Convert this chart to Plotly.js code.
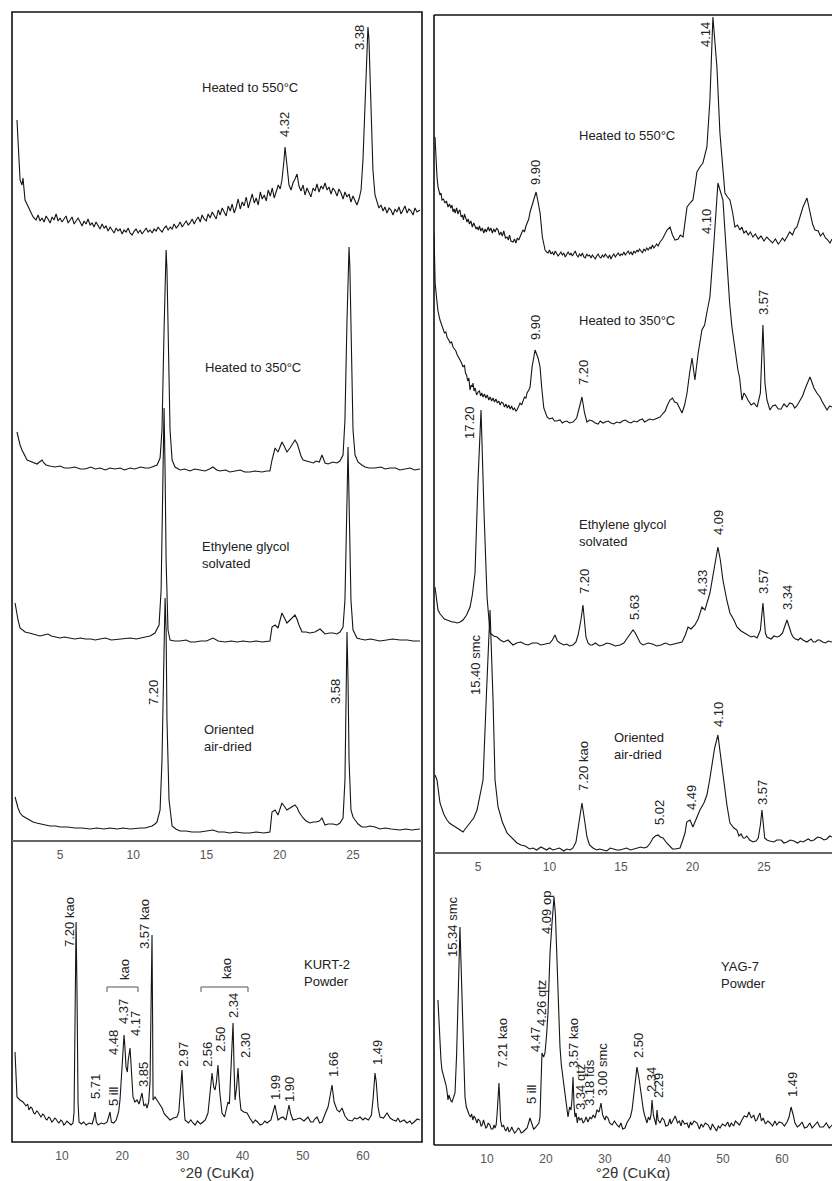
<!DOCTYPE html>
<html>
<head>
<meta charset="utf-8">
<script src="https://cdn.plot.ly/plotly-3.0.1.min.js"></script>
<style>html,body{margin:0;padding:0;background:#fff}#chart{width:832px;height:1181px}</style>
</head>
<body>
<div id="chart"></div>
<script>
// ===== DATA: [°2θ, relative intensity] =====
// KURT-2 oriented clay fraction (left, upper)
const kurtHeated550 = [[2.06,115],[2.20,75],[2.27,55],[2.40,50],[2.47,57],[2.61,35],[2.82,28],[3.16,18],[3.36,15],[3.50,20],[3.64,14],[3.77,17],[3.91,13],[4.05,19],[4.18,16],[4.32,12],[4.46,18],[4.59,15],[4.73,21],[4.87,14],[5.00,17],[5.14,13],[5.27,16],[5.41,19],[5.55,12],[5.68,15],[5.82,18],[5.96,11],[6.09,14],[6.23,17],[6.37,13],[6.50,9],[6.64,14],[6.78,11],[6.91,16],[7.05,10],[7.19,12],[7.32,8],[7.46,13],[7.60,9],[7.73,6],[7.87,11],[8.01,7],[8.14,9],[8.28,4],[8.42,8],[8.55,5],[8.69,2],[8.83,7],[8.96,4],[9.10,6],[9.24,1],[9.37,5],[9.51,3],[9.65,7],[9.78,2],[9.92,0],[10.06,4],[10.19,6],[10.33,2],[10.47,5],[10.60,1],[10.74,4],[10.88,7],[11.01,3],[11.15,5],[11.29,2],[11.42,6],[11.56,4],[11.70,8],[11.83,5],[11.97,3],[12.11,7],[12.24,9],[12.38,5],[12.52,8],[12.65,6],[12.79,11],[12.93,7],[13.06,9],[13.20,13],[13.34,8],[13.47,11],[13.61,14],[13.75,10],[13.88,12],[14.02,16],[14.16,11],[14.29,15],[14.43,18],[14.57,13],[14.70,20],[14.84,16],[14.98,14],[15.11,21],[15.25,17],[15.39,23],[15.52,19],[15.66,16],[15.80,25],[15.93,20],[16.07,27],[16.21,22],[16.34,19],[16.48,29],[16.62,24],[16.75,31],[16.89,22],[17.03,28],[17.16,36],[17.30,26],[17.44,33],[17.57,29],[17.71,38],[17.85,27],[17.98,35],[18.12,41],[18.26,32],[18.39,37],[18.53,30],[18.67,43],[18.80,36],[18.94,40],[19.08,34],[19.21,45],[19.35,39],[19.49,47],[19.62,37],[19.76,44],[19.90,50],[20.03,46],[20.15,55],[20.29,75],[20.36,88],[20.49,70],[20.63,50],[20.77,45],[20.90,52],[21.04,56],[21.18,61],[21.31,49],[21.45,44],[21.59,50],[21.72,40],[21.86,47],[22.00,42],[22.13,38],[22.27,47],[22.41,44],[22.54,51],[22.68,43],[22.82,49],[22.95,46],[23.09,52],[23.23,45],[23.36,48],[23.50,41],[23.63,47],[23.77,44],[23.91,39],[24.04,46],[24.18,42],[24.32,36],[24.45,43],[24.59,38],[24.73,41],[24.86,33],[25.00,39],[25.14,35],[25.27,30],[25.41,36],[25.55,45],[25.68,75],[25.82,135],[25.96,195],[26.02,208],[26.09,195],[26.23,125],[26.36,65],[26.50,40],[26.64,32],[26.77,27],[26.91,30],[27.05,24],[27.18,28],[27.32,22],[27.46,27],[27.59,25],[27.73,20],[27.87,26],[28.00,23],[28.14,28],[28.28,21],[28.41,25],[28.55,29],[28.69,22],[28.82,26],[28.96,24],[29.10,20],[29.23,27],[29.37,23],[29.57,25]];
const kurtHeated350 = [[2.06,38],[2.17,30],[2.27,25],[2.40,20],[2.47,18],[2.61,13],[2.75,10],[2.92,9],[3.09,8],[3.26,7],[3.43,6],[3.60,8],[3.77,10],[3.90,7],[4.04,5],[4.30,4],[4.66,3],[5.0,4],[5.3,2],[5.68,2],[6.0,3],[6.4,1],[6.71,1],[7.1,3],[7.4,1],[7.73,2],[8.1,0],[8.4,2],[8.75,1],[9.1,2],[9.4,0],[9.78,2],[10.1,1],[10.5,3],[10.8,2],[11.1,2],[11.28,3],[11.50,4],[11.62,5],[11.83,12],[11.96,40],[12.10,140],[12.17,200],[12.24,220],[12.30,200],[12.37,130],[12.51,40],[12.65,10],[12.85,3],[13.19,0],[13.5,1],[13.87,-1],[14.2,1],[14.56,0],[14.9,-1],[15.2,1],[15.44,3],[15.7,0],[15.92,-1],[16.3,0],[16.6,-2],[16.95,-1],[17.3,0],[17.6,-2],[17.97,-2],[18.3,-1],[18.6,-2],[18.79,-2],[19.1,-1],[19.33,-1],[19.47,10],[19.68,22],[19.88,18],[20.15,28],[20.30,24],[20.49,18],[20.70,22],[20.84,25],[21.04,30],[21.20,26],[21.31,20],[21.45,14],[21.59,10],[21.80,9],[22.06,8],[22.3,7],[22.47,9],[22.7,8],[22.88,15],[23.09,7],[23.3,6],[23.63,8],[23.9,7],[24.11,9],[24.32,15],[24.45,50],[24.59,150],[24.66,200],[24.73,223],[24.79,200],[24.86,130],[25.00,40],[25.14,15],[25.34,8],[25.6,5],[25.82,3],[26.1,2],[26.50,2],[26.9,3],[27.2,1],[27.53,2],[27.9,2],[28.2,0],[28.55,1],[28.9,2],[29.2,0],[29.57,1]];
const kurtGlycol = [[1.93,37],[2.03,28],[2.13,20],[2.27,12],[2.45,10],[2.61,8],[2.9,7],[3.16,6],[3.4,5],[3.63,4],[3.9,5],[4.18,6],[4.40,4],[4.66,3],[5.0,2],[5.3,3],[5.68,2],[6.0,1],[6.4,2],[6.71,1],[7.1,1],[7.4,0],[7.73,1],[8.1,2],[8.5,0],[9.1,1],[9.5,1],[9.8,2],[10.2,1],[10.46,2],[10.8,3],[11.14,4],[11.48,7],[11.76,15],[11.90,50],[12.03,160],[12.10,232],[12.17,170],[12.24,80],[12.37,10],[12.51,0],[12.8,-1],[13.19,-1],[13.6,0],[13.9,-2],[14.22,-2],[14.6,-1],[15.0,-1],[15.44,2],[15.8,-1],[16.26,-2],[16.7,-1],[17.1,-2],[17.5,-1],[17.97,-2],[18.4,-1],[18.8,-2],[19.33,-1],[19.47,13],[19.68,15],[19.88,12],[20.15,27],[20.32,22],[20.49,17],[20.70,20],[20.84,22],[21.04,25],[21.20,20],[21.31,15],[21.52,8],[21.8,8],[22.06,7],[22.4,8],[22.75,11],[22.9,9],[23.09,6],[23.4,7],[23.63,7],[23.9,6],[24.11,8],[24.32,13],[24.45,40],[24.59,140],[24.66,193],[24.73,140],[24.86,40],[25.00,10],[25.27,2],[25.5,1],[25.82,0],[26.2,1],[26.5,0],[26.84,-1],[27.3,0],[27.7,1],[28.21,0],[28.7,0],[29.1,-1],[29.57,-1]];
const kurtAirDried = [[1.93,33],[2.03,27],[2.13,22],[2.27,17],[2.45,14],[2.68,12],[2.9,10],[3.16,8],[3.4,7],[3.63,6],[4.0,5],[4.32,4],[4.7,4],[5.0,3],[5.5,3],[6.02,2],[6.5,2],[7.05,1],[7.5,2],[8.0,1],[8.41,2],[8.9,1],[9.3,2],[9.78,1],[10.2,2],[10.5,2],[10.80,2],[11.1,3],[11.28,4],[11.48,6],[11.62,8],[11.83,20],[11.96,70],[12.10,180],[12.17,232],[12.24,200],[12.30,110],[12.44,30],[12.65,4],[12.9,1],[13.19,-1],[13.6,-1],[14.0,-2],[14.56,-2],[15.0,-1],[15.44,0],[15.8,-2],[16.2,-2],[16.60,-3],[17.0,-2],[17.5,-3],[17.97,-3],[18.4,-2],[18.9,-3],[19.33,-2],[19.47,18],[19.68,20],[19.88,15],[20.15,27],[20.32,23],[20.49,20],[20.70,22],[20.84,23],[21.04,25],[21.20,22],[21.31,18],[21.45,15],[21.59,12],[21.8,9],[22.06,7],[22.3,8],[22.47,8],[22.7,9],[22.88,12],[23.09,5],[23.3,6],[23.63,6],[23.9,5],[24.11,7],[24.32,12],[24.45,50],[24.52,130],[24.59,198],[24.66,150],[24.73,70],[24.86,20],[25.00,13],[25.14,10],[25.35,6],[25.61,3],[25.9,3],[26.16,4],[26.5,3],[26.84,1],[27.2,2],[27.6,1],[28.21,0],[28.6,1],[29.0,0],[29.57,1]];
// KURT-2 random powder (left, lower)
const kurtPowder = [[2.19,90],[2.35,60],[2.52,45],[3.02,42],[3.52,40],[4.0,36],[4.3,38],[4.5,32],[4.8,35],[5.0,34],[5.3,29],[5.5,28],[5.8,31],[6.0,30],[6.3,26],[6.5,25],[6.8,28],[7.0,27],[7.3,23],[7.5,22],[7.8,25],[8.0,24],[8.3,20],[8.5,21],[8.8,24],[9.0,23],[9.3,20],[9.5,19],[9.8,22],[10.0,21],[10.3,17],[10.5,18],[10.8,21],[11.0,20],[11.3,18],[11.5,17],[11.83,19],[12.0,30],[12.16,120],[12.33,220],[12.49,150],[12.66,40],[12.82,20],[13.2,18],[13.6,20],[14.0,17],[14.5,19],[15.0,18],[15.3,24],[15.48,30],[15.7,20],[16.0,17],[16.5,19],[17.0,18],[17.5,20],[17.8,25],[17.97,30],[18.2,20],[18.6,19],[19.0,22],[19.4,30],[19.63,42],[19.8,60],[19.97,80],[20.15,100],[20.30,107],[20.45,95],[20.63,75],[20.85,70],[21.0,82],[21.30,94],[21.5,70],[21.79,45],[22.1,40],[22.46,42],[22.8,38],[23.0,44],[23.29,49],[23.6,36],[23.9,38],[24.12,34],[24.4,40],[24.62,60],[24.78,150],[24.95,207],[25.05,120],[25.12,42],[25.45,45],[25.78,42],[26.1,40],[26.61,34],[27.0,28],[27.5,25],[27.94,22],[28.5,24],[29.1,25],[29.4,30],[29.7,50],[29.93,72],[30.15,45],[30.43,22],[31.0,19],[31.4,22],[31.76,19],[32.1,17],[32.5,21],[33.0,18],[33.42,20],[33.8,22],[34.25,29],[34.58,50],[34.92,69],[35.2,55],[35.42,52],[35.65,60],[35.91,77],[36.2,50],[36.58,29],[37.0,25],[37.3,32],[37.57,40],[37.8,38],[38.1,80],[38.41,119],[38.6,70],[38.74,42],[39.0,55],[39.24,74],[39.5,45],[39.73,32],[40.2,30],[40.73,29],[41.2,24],[41.73,19],[42.1,22],[42.5,20],[42.9,17],[43.3,18],[43.7,21],[44.05,19],[44.7,22],[45.0,28],[45.38,37],[45.6,30],[45.88,22],[46.3,24],[46.71,25],[47.2,22],[47.71,37],[48.0,28],[48.37,22],[49.0,23],[49.53,24],[50.2,21],[50.86,25],[51.3,20],[51.69,20],[52.0,23],[52.36,25],[52.8,19],[53.19,20],[53.7,28],[54.19,35],[54.5,45],[54.85,57],[55.2,40],[55.68,32],[56.1,30],[56.51,34],[57.0,26],[57.51,22],[58.2,21],[58.6,24],[59.0,23],[59.5,25],[60.0,22],[60.33,24],[60.9,22],[61.4,27],[61.7,45],[61.99,69],[62.2,60],[62.5,35],[62.82,25],[63.4,24],[63.99,29],[64.5,24],[65.0,22],[65.5,21],[65.8,24],[66.15,20],[66.8,22],[67.3,19],[67.81,21],[68.1,18],[68.5,20],[69.0,23],[69.47,22]];
// YAG-7 oriented clay fraction (right, upper)
const yagHeated550 = [[1.99,120],[2.06,95],[2.13,80],[2.20,70],[2.27,66],[2.34,62],[2.41,64],[2.48,57],[2.58,58],[2.69,54],[2.79,56],[2.90,50],[3.00,53],[3.10,49],[3.18,52],[3.25,45],[3.33,48],[3.40,44],[3.50,49],[3.60,43],[3.67,46],[3.74,47],[3.82,40],[3.90,42],[3.98,37],[4.05,43],[4.14,39],[4.23,35],[4.31,38],[4.40,33],[4.50,36],[4.60,30],[4.70,34],[4.80,31],[4.87,28],[4.93,30],[5.02,27],[5.10,31],[5.20,26],[5.30,29],[5.40,24],[5.50,28],[5.58,25],[5.63,27],[5.72,30],[5.80,26],[5.90,29],[6.00,24],[6.10,28],[6.20,25],[6.30,29],[6.40,27],[6.50,22],[6.60,25],[6.70,21],[6.80,26],[6.92,19],[7.03,20],[7.12,17],[7.20,22],[7.30,16],[7.45,15],[7.55,18],[7.65,14],[7.75,19],[7.85,17],[7.94,21],[8.05,24],[8.15,27],[8.25,25],[8.35,31],[8.43,34],[8.55,38],[8.64,45],[8.78,52],[8.92,60],[9.06,65],[9.2,55],[9.34,44],[9.5,20],[9.69,7],[9.8,5],[9.9,4],[10.0,7],[10.1,3],[10.2,5],[10.3,2],[10.4,6],[10.5,4],[10.6,1],[10.7,3],[10.8,5],[10.9,2],[11.0,4],[11.1,0],[11.2,3],[11.3,5],[11.43,2],[11.5,4],[11.6,1],[11.7,3],[11.8,6],[11.9,2],[12.0,0],[12.1,3],[12.2,1],[12.3,4],[12.4,0],[12.5,-1],[12.6,3],[12.7,1],[12.8,2],[12.9,-1],[13.0,2],[13.1,0],[13.2,-2],[13.3,1],[13.4,3],[13.5,0],[13.6,-1],[13.7,2],[13.8,0],[13.9,3],[14.0,1],[14.1,-1],[14.2,2],[14.3,-2],[14.4,1],[14.5,3],[14.6,0],[14.7,2],[14.8,4],[14.93,1],[15.0,3],[15.1,2],[15.2,5],[15.3,2],[15.4,4],[15.5,6],[15.6,3],[15.7,5],[15.8,2],[15.9,6],[16.0,4],[16.12,7],[16.2,5],[16.3,8],[16.4,6],[16.5,4],[16.6,8],[16.7,6],[16.8,9],[16.9,7],[17.03,10],[17.1,8],[17.2,12],[17.3,9],[17.4,11],[17.5,13],[17.6,11],[17.73,15],[17.9,18],[18.05,22],[18.22,27],[18.43,30],[18.6,22],[18.78,17],[19.0,18],[19.15,22],[19.34,20],[19.48,35],[19.62,50],[19.83,54],[20.03,57],[20.17,70],[20.31,85],[20.52,90],[20.73,94],[21.01,110],[21.22,157],[21.43,240],[21.71,190],[21.92,124],[22.27,64],[22.45,60],[22.62,57],[22.8,45],[22.97,30],[23.15,32],[23.32,27],[23.45,30],[23.6,24],[23.75,26],[23.9,22],[24.05,25],[24.23,20],[24.4,23],[24.6,18],[24.8,21],[25.0,16],[25.2,20],[25.42,17],[25.6,14],[25.8,18],[26.0,13],[26.12,15],[26.3,19],[26.45,16],[26.61,20],[26.8,25],[27.0,22],[27.15,28],[27.31,30],[27.5,40],[27.73,50],[28.01,59],[28.2,45],[28.4,33],[28.57,27],[28.8,26],[28.95,21],[29.13,24],[29.3,19],[29.4,18],[29.62,14],[29.76,18]];
const yagHeated350 = [[1.92,190],[2.0,140],[2.1,125],[2.2,112],[2.34,103],[2.45,98],[2.55,95],[2.65,90],[2.75,91],[2.83,86],[2.95,83],[3.05,80],[3.15,81],[3.25,76],[3.35,74],[3.45,72],[3.55,68],[3.65,66],[3.74,63],[3.85,60],[3.95,56],[4.05,58],[4.12,50],[4.2,48],[4.28,42],[4.36,45],[4.44,33],[4.52,38],[4.6,36],[4.65,40],[4.72,32],[4.8,35],[4.9,28],[5.0,31],[5.1,32],[5.18,27],[5.26,30],[5.35,26],[5.45,29],[5.55,25],[5.65,28],[5.75,23],[5.85,26],[5.95,22],[6.05,25],[6.15,21],[6.25,24],[6.35,20],[6.45,22],[6.55,18],[6.65,21],[6.75,20],[6.85,16],[6.95,19],[7.05,15],[7.15,18],[7.25,14],[7.35,17],[7.45,13],[7.55,15],[7.65,12],[7.73,13],[7.85,17],[7.94,20],[8.05,18],[8.15,23],[8.25,26],[8.35,25],[8.43,30],[8.55,33],[8.64,36],[8.78,56],[8.99,73],[9.2,65],[9.34,56],[9.45,36],[9.6,15],[9.83,6],[10.0,4],[10.2,5],[10.35,2],[10.5,2],[10.73,3],[10.9,0],[11.0,1],[11.2,2],[11.4,0],[11.64,1],[11.9,5],[12.13,18],[12.27,26],[12.45,10],[12.62,1],[12.8,3],[13.0,2],[13.2,0],[13.4,-1],[13.55,2],[13.74,0],[13.9,1],[14.1,2],[14.3,0],[14.5,-1],[14.7,1],[14.93,0],[15.1,2],[15.3,3],[15.5,1],[15.7,0],[15.9,2],[16.12,1],[16.3,3],[16.5,4],[16.65,1],[16.8,2],[17.0,4],[17.24,3],[17.5,5],[17.73,6],[17.9,9],[18.1,12],[18.25,18],[18.43,23],[18.6,25],[18.75,21],[18.92,20],[19.1,15],[19.27,10],[19.45,18],[19.62,30],[19.8,50],[19.97,65],[20.17,43],[20.4,70],[20.66,93],[20.85,98],[21.0,110],[21.22,126],[21.5,180],[21.78,240],[22.13,223],[22.41,156],[22.6,120],[22.76,96],[23.0,70],[23.18,53],[23.3,45],[23.46,23],[23.6,30],[23.7,28],[23.88,23],[24.1,18],[24.3,20],[24.52,16],[24.75,30],[24.93,98],[25.07,40],[25.21,23],[25.42,13],[25.6,17],[25.8,18],[26.0,14],[26.2,14],[26.4,19],[26.61,16],[26.8,20],[27.0,19],[27.15,15],[27.3,17],[27.52,23],[27.7,27],[27.9,35],[28.05,40],[28.22,46],[28.35,41],[28.5,35],[28.7,30],[28.92,26],[29.05,22],[29.2,18],[29.41,13],[29.6,17],[29.76,16]];
const yagGlycol = [[1.99,58],[2.10,42],[2.20,35],[2.35,31],[2.5,28],[2.65,26],[2.83,25],[3.0,24],[3.2,23],[3.35,23],[3.53,22],[3.75,23],[3.95,25],[4.2,30],[4.44,38],[4.6,50],[4.79,72],[5.00,165],[5.21,235],[5.42,132],[5.63,48],[5.84,12],[6.1,9],[6.33,8],[6.55,5],[6.8,3],[7.1,5],[7.3,2],[7.45,0],[7.7,2],[8.0,3],[8.25,1],[8.5,0],[8.8,2],[9.13,2],[9.4,0],[9.7,1],[10.03,2],[10.2,5],[10.38,10],[10.55,4],[10.73,2],[11.0,0],[11.2,1],[11.4,-1],[11.64,0],[11.85,3],[12.0,10],[12.2,25],[12.34,40],[12.55,8],[12.69,2],[12.85,0],[13.0,0],[13.2,2],[13.5,-1],[13.74,0],[14.0,2],[14.3,1],[14.6,-1],[14.93,0],[15.2,2],[15.49,8],[15.84,15],[16.0,12],[16.19,7],[16.35,2],[16.54,0],[16.9,2],[17.2,1],[17.5,-1],[17.8,0],[18.1,2],[18.43,0],[18.8,1],[19.05,2],[19.27,3],[19.5,10],[19.69,18],[19.9,16],[20.17,20],[20.4,26],[20.66,38],[20.87,35],[21.05,45],[21.22,52],[21.5,75],[21.78,98],[21.95,85],[22.13,65],[22.4,45],[22.62,32],[22.9,25],[23.11,18],[23.4,14],[23.67,12],[23.9,10],[24.1,8],[24.3,9],[24.52,7],[24.75,15],[24.93,42],[25.1,12],[25.21,8],[25.5,6],[25.7,9],[25.91,8],[26.1,9],[26.3,12],[26.61,25],[26.9,12],[27.03,8],[27.2,6],[27.4,5],[27.55,7],[27.73,5],[28.0,3],[28.15,5],[28.3,6],[28.45,3],[28.6,3],[28.75,5],[28.9,5],[29.1,3],[29.3,2],[29.5,4],[29.76,3]];
const yagAirDried = [[1.99,75],[2.13,70],[2.34,47],[2.6,36],[2.83,30],[3.0,27],[3.2,25],[3.35,24],[3.53,22],[3.75,20],[3.95,18],[4.1,21],[4.2,23],[4.44,27],[4.7,32],[4.93,40],[5.14,57],[5.35,70],[5.6,160],[5.84,240],[6.05,150],[6.19,70],[6.40,43],[6.7,28],[7.03,17],[7.4,12],[7.73,7],[8.0,5],[8.3,4],[8.6,1],[8.85,2],[9.1,0],[9.4,3],[9.8,0],[10.0,2],[10.24,0],[10.5,1],[10.7,2],[11.0,-1],[11.2,1],[11.45,0],[11.64,2],[11.85,8],[11.99,20],[12.27,47],[12.45,30],[12.62,13],[12.8,5],[13.04,2],[13.3,0],[13.5,1],[13.75,0],[14.0,-1],[14.25,2],[14.5,1],[14.7,0],[14.93,0],[15.2,1],[15.4,2],[15.65,0],[15.9,1],[16.15,2],[16.4,3],[16.6,2],[16.82,3],[17.05,7],[17.24,12],[17.4,14],[17.59,15],[17.75,13],[17.94,12],[18.2,7],[18.43,3],[18.6,1],[18.8,1],[19.0,2],[19.13,2],[19.3,9],[19.48,17],[19.6,28],[19.83,30],[20.03,23],[20.3,32],[20.52,40],[20.8,47],[21.01,55],[21.2,70],[21.36,85],[21.55,102],[21.78,115],[22.06,85],[22.25,60],[22.41,45],[22.62,27],[22.9,22],[23.11,20],[23.25,14],[23.4,16],[23.55,12],[23.67,12],[23.8,14],[24.0,10],[24.23,8],[24.45,9],[24.6,12],[24.75,25],[24.86,40],[25.05,12],[25.21,10],[25.4,9],[25.7,8],[25.9,10],[26.2,10],[26.4,7],[26.61,8],[26.85,10],[27.1,9],[27.35,7],[27.55,9],[27.73,8],[27.95,10],[28.1,11],[28.3,9],[28.5,10],[28.75,13],[29.0,12],[29.2,10],[29.4,11],[29.6,14],[29.76,13]];
// YAG-7 random powder (right, lower)
const yagPowder = [[1.69,145],[1.86,120],[2.03,98],[2.2,85],[2.37,75],[2.6,70],[2.88,65],[3.05,60],[3.2,55],[3.39,45],[3.55,50],[3.7,47],[3.9,44],[4.07,43],[4.3,48],[4.58,52],[4.85,90],[5.08,132],[5.3,190],[5.42,218],[5.6,180],[5.76,132],[6.0,80],[6.27,48],[6.5,38],[6.78,32],[7.0,30],[7.2,28],[7.4,31],[7.6,25],[7.8,29],[8.0,27],[8.15,23],[8.31,22],[8.5,26],[8.8,24],[9.0,19],[9.2,20],[9.4,25],[9.6,22],[9.8,17],[10.0,18],[10.2,22],[10.5,20],[10.7,16],[11.0,16],[11.2,20],[11.36,17],[11.55,20],[11.7,30],[11.85,45],[12.03,62],[12.2,40],[12.3,25],[12.54,18],[12.8,20],[13.0,16],[13.2,14],[13.5,18],[13.75,13],[14.0,15],[14.2,18],[14.41,15],[14.7,12],[15.0,14],[15.3,17],[15.5,16],[15.8,12],[16.1,13],[16.35,15],[16.6,16],[16.8,17],[17.0,20],[17.15,24],[17.29,27],[17.5,23],[17.7,20],[17.9,16],[18.14,17],[18.4,19],[18.6,20],[18.8,22],[18.98,28],[19.15,60],[19.32,92],[19.6,88],[19.83,92],[20.1,110],[20.34,132],[20.5,160],[20.68,192],[21.0,220],[21.36,248],[21.6,230],[21.86,182],[22.1,130],[22.37,98],[22.6,80],[22.8,70],[23.0,60],[23.22,52],[23.5,40],[23.73,28],[24.0,38],[24.24,35],[24.4,45],[24.58,68],[24.75,40],[24.92,28],[25.1,32],[25.3,22],[25.5,28],[25.76,25],[26.0,27],[26.3,22],[26.55,24],[26.8,28],[27.1,23],[27.46,28],[27.7,26],[28.0,30],[28.3,27],[28.64,35],[29.0,33],[29.32,42],[29.6,30],[30.0,25],[30.2,29],[30.5,27],[30.8,22],[31.2,20],[31.6,24],[32.03,20],[32.4,18],[32.7,22],[33.0,16],[33.39,17],[33.7,22],[34.0,25],[34.3,28],[34.58,35],[35.0,55],[35.42,78],[35.8,65],[36.0,55],[36.27,45],[36.5,35],[36.7,30],[36.9,25],[37.12,22],[37.35,28],[37.6,25],[37.8,30],[37.97,45],[38.2,30],[38.47,25],[38.65,20],[38.81,35],[39.0,25],[39.32,22],[39.7,27],[40.0,25],[40.3,19],[40.7,20],[41.0,26],[41.2,21],[41.53,25],[41.9,29],[42.3,22],[42.6,24],[42.9,19],[43.1,25],[43.5,21],[43.9,22],[44.2,17],[44.5,23],[44.7,20],[45.1,24],[45.6,22],[46.0,16],[46.3,21],[46.61,18],[47.0,22],[47.5,20],[47.9,15],[48.2,21],[48.5,18],[48.9,14],[49.2,19],[49.49,17],[49.9,21],[50.4,19],[50.8,23],[51.1,18],[51.4,22],[51.8,19],[52.1,24],[52.37,22],[52.8,20],[53.2,25],[53.6,29],[54.07,28],[54.4,33],[54.8,27],[55.2,30],[55.5,24],[55.76,25],[56.0,29],[56.27,32],[56.5,24],[56.8,27],[57.2,21],[57.6,24],[57.97,22],[58.4,19],[58.8,24],[59.1,20],[59.5,23],[60.0,22],[60.4,19],[60.85,23],[61.2,28],[61.53,38],[61.9,30],[62.2,22],[62.6,18],[63.0,20],[63.4,23],[63.8,17],[64.24,18],[64.7,22],[65.1,17],[65.5,20],[66.0,23],[66.4,18],[67.0,18],[67.5,22],[68.0,17],[68.47,20]];

const orientedTicks = [5, 10, 15, 20, 25];
const powderTicks = [10, 20, 30, 40, 50, 60];
const axisTitle = '°2θ (CuKα)';

// ===== LAYOUT (pixel geometry of the original figure) =====
const W = 832, H = 1181;
const px = v => v / W;
const py = v => 1 - v / H;
// vertical stacking offsets (axis units) of the oriented patterns
const kurtOffsets = {air: 11, gly: 201, h350: 371, h550: 606};
const yagOffsets = {air: 3, gly: 208, h350: 430, h550: 596};

const lineStyle = {color: '#151515', width: 1.1};
function trace(pairs, offset, xa, ya) {
  return {type: 'scatter', mode: 'lines', x: pairs.map(p => p[0]), y: pairs.map(p => p[1] + offset),
    xaxis: xa, yaxis: ya, line: lineStyle, hoverinfo: 'skip', showlegend: false};
}
const data = [
  trace(kurtAirDried, kurtOffsets.air, 'x', 'y'),
  trace(kurtGlycol, kurtOffsets.gly, 'x', 'y'),
  trace(kurtHeated350, kurtOffsets.h350, 'x', 'y'),
  trace(kurtHeated550, kurtOffsets.h550, 'x', 'y'),
  trace(kurtPowder, 0, 'x2', 'y2'),
  trace(yagAirDried, yagOffsets.air, 'x3', 'y3'),
  trace(yagGlycol, yagOffsets.gly, 'x3', 'y3'),
  trace(yagHeated350, yagOffsets.h350, 'x3', 'y3'),
  trace(yagHeated550, yagOffsets.h550, 'x3', 'y3'),
  trace(yagPowder, 0, 'x4', 'y4')
];

const tickFont = {family: 'Liberation Sans, Arial, sans-serif', size: 12, color: '#555'};
function xax(domain, range, ticks, anchor, title) {
  const a = {domain: domain, range: range, anchor: anchor, tickvals: ticks, ticktext: ticks.map(String),
    showgrid: false, zeroline: false, showline: false, ticks: '', tickfont: tickFont, fixedrange: true, ticklabelstandoff: 5};
  if (title) a.title = {text: title, font: {family: 'Liberation Sans, Arial, sans-serif', size: 15, color: '#333'}, standoff: 5};
  return a;
}
function yax(domain, range, anchor) {
  return {domain: domain, range: range, anchor: anchor, visible: false, fixedrange: true};
}

const labelFont = {family: 'Liberation Sans, Arial, sans-serif', size: 13, color: '#222'};
function rot(text, x, y) {
  return {text: text, x: px(x), y: py(y), xref: 'paper', yref: 'paper', showarrow: false,
    textangle: -90, xanchor: 'center', yanchor: 'middle', font: labelFont};
}
function hor(text, x, y, left) {
  return {text: text, x: px(x), y: py(y), xref: 'paper', yref: 'paper', showarrow: false,
    xanchor: left ? 'left' : 'center', yanchor: 'middle', align: left ? 'left' : 'center', font: labelFont};
}

const annotations = [
  // KURT-2 oriented
  hor('Heated to 550°C', 250, 87), rot('4.32', 285, 125), rot('3.38', 360, 38),
  hor('Heated to 350°C', 253, 367),
  hor('Ethylene glycol<br>solvated', 200, 555, true),
  rot('7.20', 153, 693), rot('3.58', 335, 692),
  hor('Oriented<br>air-dried', 202, 738, true),
  // KURT-2 powder
  rot('7.20 kao', 69, 922), rot('5.71', 95, 1087), rot('5 ill', 113, 1096), rot('4.48', 113, 1042),
  rot('4.37', 123, 1012), rot('4.17', 135, 1024), rot('3.85', 143, 1075), rot('3.57 kao', 144, 924),
  rot('kao', 124, 970), rot('2.97', 183, 1055), rot('2.56', 207, 1055), rot('2.50', 220, 1040),
  rot('2.34', 234, 1006), rot('2.30', 245, 1046), rot('kao', 226, 968),
  rot('1.99', 275, 1088), rot('1.90', 289, 1090), rot('1.66', 333, 1065), rot('1.49', 377, 1053),
  hor('KURT-2<br>Powder', 302, 973, true),
  // YAG-7 oriented
  hor('Heated to 550°C', 627, 136), rot('9.90', 535, 173), rot('4.14', 705, 35),
  hor('Heated to 350°C', 627, 320), rot('9.90', 535, 328), rot('7.20', 583, 373),
  rot('4.10', 706, 222), rot('3.57', 763, 303),
  rot('17.20', 470, 423), hor('Ethylene glycol<br>solvated', 577, 533, true),
  rot('7.20', 584, 582), rot('5.63', 635, 608), rot('4.33', 702, 583), rot('4.09', 718, 523),
  rot('3.57', 763, 582), rot('3.34', 787, 598),
  rot('15.40 smc', 475, 665), rot('7.20 kao', 583, 766), hor('Oriented<br>air-dried', 612, 746, true),
  rot('5.02', 659, 813), rot('4.49', 691, 798), rot('3.57', 762, 793), rot('4.10', 718, 715),
  // YAG-7 powder
  rot('15.34 smc', 452, 927), rot('7.21 kao', 502, 1043), rot('5 ill', 531, 1094), rot('4.47', 535, 1040),
  rot('4.26 qtz', 541, 1003), rot('4.09 op', 546, 913), rot('3.57 kao', 573, 1043),
  rot('3.34 qtz', 580, 1087), rot('3.18 fds', 589, 1083), rot('3.00 smc', 602, 1070),
  rot('2.50', 638, 1046), rot('2.34', 651, 1080), rot('2.29', 658, 1086), rot('1.49', 792, 1085),
  hor('YAG-7<br>Powder', 719, 975, true)
];

function seg(x0, y0, x1, y1, color, width) {
  return {type: 'line', xref: 'paper', yref: 'paper', x0: px(x0), y0: py(y0), x1: px(x1), y1: py(y1),
    line: {color: color, width: width}};
}
const shapes = [
  // left frame
  {type: 'rect', xref: 'paper', yref: 'paper', x0: px(12), y0: py(1142), x1: px(422), y1: py(12),
    line: {color: '#111', width: 1.6}},
  // right frame (cut at the image edge on the right)
  seg(434, 15, 832, 15, '#111', 1.6), seg(434, 15, 434, 1145, '#111', 1.6), seg(434, 1145, 832, 1145, '#111', 1.6),
  // separators between oriented and powder patterns
  seg(12, 841, 422, 841, '#666', 2), seg(434, 853, 832, 853, '#666', 2),
  // kao brackets
  seg(107, 987, 138, 987, '#555', 1), seg(107, 987, 107, 992, '#555', 1), seg(138, 987, 138, 992, '#555', 1),
  seg(201, 987, 248, 987, '#555', 1), seg(201, 987, 201, 992, '#555', 1), seg(248, 987, 248, 992, '#555', 1)
];

const layout = {
  width: W, height: H, margin: {l: 0, r: 0, t: 0, b: 0}, autosize: false,
  paper_bgcolor: '#fff', plot_bgcolor: 'rgba(0,0,0,0)', showlegend: false,
  xaxis: xax([px(12), px(422)], [1.72, 29.71], orientedTicks, 'y'),
  yaxis: yax([py(841), py(12)], [0, 829], 'x'),
  xaxis2: xax([px(12), px(422)], [1.69, 69.8], powderTicks, 'y2', axisTitle),
  yaxis2: yax([py(1142), py(841)], [0, 301], 'x2'),
  xaxis3: xax([px(434), 1], [1.92, 29.76], orientedTicks, 'y3'),
  yaxis3: yax([py(853), py(15)], [0, 838], 'x3'),
  xaxis4: xax([px(434), 1], [1.02, 68.47], powderTicks, 'y4', axisTitle),
  yaxis4: yax([py(1145), py(853)], [0, 292], 'x4'),
  annotations: annotations,
  shapes: shapes
};

Plotly.newPlot('chart', data, layout, {staticPlot: true, displayModeBar: false});
</script>
</body>
</html>
